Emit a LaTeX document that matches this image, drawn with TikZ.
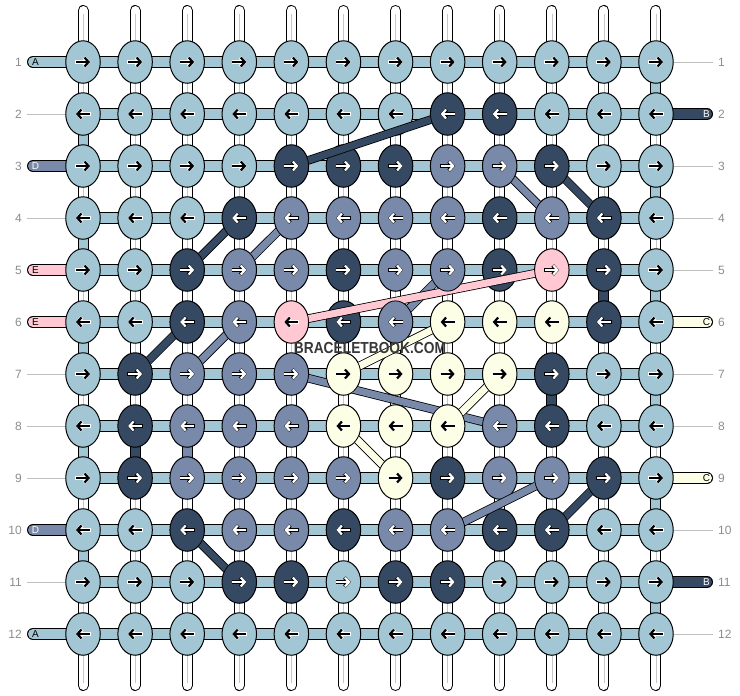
\documentclass[tikz,border=0pt]{standalone}
\usepackage{fontspec}
\newfontfamily\lab{Liberation Sans}
\usetikzlibrary{matrix,shapes.geometric,arrows.meta}
\definecolor{lb}{HTML}{A3C6D4}
\definecolor{dk}{HTML}{354A62}
\definecolor{md}{HTML}{7889AA}
\definecolor{pk}{HTML}{FFC8D2}
\definecolor{cr}{HTML}{FDFEE6}
\pgfdeclarelayer{bg}
\pgfsetlayers{bg,main}
\def\bandlist{2-8/3-5/dk, 3-10/4-11/dk, 4-4/5-3/dk, 6-3/7-2/dk, 10-3/11-4/dk, 10-10/9-11/dk, 3-9/4-10/md, 4-5/5-4/md, 6-4/7-3/md, 7-5/8-9/md, 6-7/5-8/md, 10-8/9-10/md, 6-5/5-10/pk, 7-6/6-8/cr, 8-8/7-9/cr, 8-6/9-7/cr}
\tikzset{
	acol/.store in=\acol, hcol/.store in=\hcol, acol=black, hcol=white,
	knot/.style={ellipse, draw, fill=lb, line width=1pt, inner sep=0pt, outer sep=0pt, minimum width=34.5pt, minimum height=42.5pt},
	wa/.style={acol=white, hcol=black},
	dkn/.style={fill=dk, wa}, mdn/.style={fill=md, wa}, pkn/.style={fill=pk}, crn/.style={fill=cr},
	arw/.style={-{Straight Barb[length=4pt,width=9pt]}},
	rgt/.style={path picture={
		\draw[arw, line width=3.6pt, draw=\hcol] ([xshift=-7.6pt]path picture bounding box.center) -- ([xshift=7.4pt]path picture bounding box.center);
		\draw[arw, line width=2.2pt, draw=\acol] ([xshift=-7pt]path picture bounding box.center) -- ([xshift=7pt]path picture bounding box.center);}},
	lft/.style={path picture={
		\draw[arw, line width=3.6pt, draw=\hcol] ([xshift=7.6pt]path picture bounding box.center) -- ([xshift=-7.4pt]path picture bounding box.center);
		\draw[arw, line width=2.2pt, draw=\acol] ([xshift=7pt]path picture bounding box.center) -- ([xshift=-7pt]path picture bounding box.center);}},
	tube/.style={line width=1pt, double=white, double distance=9pt, line cap=round},
	midline/.style={black!22, line width=0.6pt, shorten <=3pt, shorten >=3pt},
	hband/.style={line width=1pt, double=lb, double distance=10pt},
	vseg/.style={line width=1pt, double=#1, double distance=9pt},
	band/.style={line width=0.8pt, double=#1, double distance=7pt},
	stub/.style={line width=1pt, double=#1, double distance=10pt, line cap=round},
	gline/.style={black!25, line width=0.7pt},
	num/.style={font=\lab\fontsize{12}{14}\selectfont, text=black!45, inner sep=0pt},
	ltr/.style={font=\lab\fontsize{10}{12}\selectfont, inner sep=0pt}
}
\begin{document}
\begin{tikzpicture}[x=1pt, y=-1pt]
	\useasboundingbox (0,0) rectangle (740,696);
	\matrix (m) at (369.5,348) [matrix of nodes, nodes={knot}, nodes in empty cells, column sep=16.59pt, row sep=8.5pt, every odd row/.style={nodes={rgt}}, every even row/.style={nodes={lft}}]{
				&			&			&			&			&			&			&			&			&			&			&			\\
				&			&			&			&			&			&			&|[dkn]|	&|[dkn]|	&			&			&			\\
				&			&			&			&|[dkn]|	&|[dkn]|	&|[dkn]|	&|[mdn]|	&|[mdn]|	&|[dkn]|	&			&			\\
				&			&			&|[dkn]|	&|[mdn]|	&|[mdn]|	&|[mdn]|	&|[mdn]|	&|[dkn]|	&|[mdn]|	&|[dkn]|	&			\\
				&			&|[dkn]|	&|[mdn]|	&|[mdn]|	&|[dkn]|	&|[mdn]|	&|[mdn]|	&|[dkn]|	&|[pkn,wa]|	&|[dkn]|	&			\\
				&			&|[dkn]|	&|[mdn]|	&|[pkn]|	&|[dkn]|	&|[mdn]|	&|[crn]|	&|[crn]|	&|[crn]|	&|[dkn]|	&			\\
				&|[dkn]|	&|[mdn]|	&|[mdn]|	&|[mdn]|	&|[crn]|	&|[crn]|	&|[crn]|	&|[crn]|	&|[dkn]|	&			&			\\
				&|[dkn]|	&|[mdn]|	&|[mdn]|	&|[mdn]|	&|[crn]|	&|[crn]|	&|[crn]|	&|[mdn]|	&|[dkn]|	&			&			\\
				&|[dkn]|	&|[mdn]|	&|[mdn]|	&|[mdn]|	&|[mdn]|	&|[crn]|	&|[dkn]|	&|[mdn]|	&|[mdn]|	&|[dkn]|	&			\\
				&			&|[dkn]|	&|[mdn]|	&|[mdn]|	&|[dkn]|	&|[mdn]|	&|[mdn]|	&|[dkn]|	&|[dkn]|	&			&			\\
				&			&			&|[dkn]|	&|[dkn]|	&|[wa]|	&|[dkn]|	&|[dkn]|	&			&			&			&			\\
				&			&			&			&			&			&			&			&			&			&			&			\\
	};
	\begin{pgfonlayer}{bg}
		\foreach \c in {1,...,12}{
			\coordinate (t\c) at (m-1-\c.center |- 0,10.5);
			\coordinate (b\c) at (m-12-\c.center |- 0,685.5);
			\draw[tube] (t\c) -- (b\c);
			\draw[midline] (t\c) -- (b\c);
		}
		\foreach \r in {1,...,12}{
			\coordinate (l\r) at (m-\r-1.center -| 27,0);
			\coordinate (r\r) at (m-\r-12.center -| 713,0);
			\draw[hband] (m-\r-1.center) -- (m-\r-12.center);
			\node[num, anchor=east] (nl\r) at ([xshift=-5pt]l\r) {\r};
			\node[num, anchor=west] (nr\r) at ([xshift=5pt]r\r) {\r};
		}
		\foreach \a/\b/\c/\k in {1/2/12/lb, 2/3/1/lb, 3/4/12/lb, 4/5/1/lb, 5/6/12/lb, 6/7/1/lb, 7/8/12/lb, 8/9/1/lb, 9/10/12/lb, 10/11/1/lb, 11/12/12/lb, 5/6/11/dk, 7/8/10/dk, 8/9/2/dk, 8/9/3/md}
			\draw[vseg=\k] (m-\a-\c.center) -- (m-\b-\c.center);
		\foreach \r/\k/\t/\tc in {1/lb/A/black, 3/md/D/white, 5/pk/E/black, 6/pk/E/black, 10/md/D/white, 12/lb/A/black}{
			\draw[stub=\k, shorten <=6pt] (l\r) -- (m-\r-1.center);
			\node[ltr, text=\tc] (sl\r) at ([xshift=8.5pt]l\r) {\t};
		}
		\foreach \r/\k/\t/\tc in {2/dk/B/white, 6/cr/C/black, 9/cr/C/black, 11/dk/B/white}{
			\draw[stub=\k, shorten >=6pt] (m-\r-12.center) -- (r\r);
			\node[ltr, text=\tc] (sr\r) at ([xshift=-6.5pt]r\r) {\t};
		}
		\foreach \r in {2,4,7,8,9,11}
			\draw[gline] (l\r) -- (m-\r-1.center);
		\foreach \r in {1,3,4,5,7,8,10,12}
			\draw[gline] (m-\r-12.center) -- (r\r);
	\end{pgfonlayer}
	\begin{scope}[even odd rule]
		\clip (0,0) rectangle (740,696) \foreach \a/\b/\k in \bandlist {(m-\a.center) ellipse [x radius=17.7pt, y radius=21.7pt] (m-\b.center) ellipse [x radius=17.7pt, y radius=21.7pt]};
		\foreach \a/\b/\k in \bandlist
			\draw[band=\k] (m-\a.center) -- (m-\b.center);
	\end{scope}
	\node[font=\lab\bfseries\fontsize{16}{18}\selectfont, text=black!78] (wm) at (370,347.5) {\scalebox{0.86}[1]{BRACELETBOOK.COM}};
\end{tikzpicture}
\end{document}
